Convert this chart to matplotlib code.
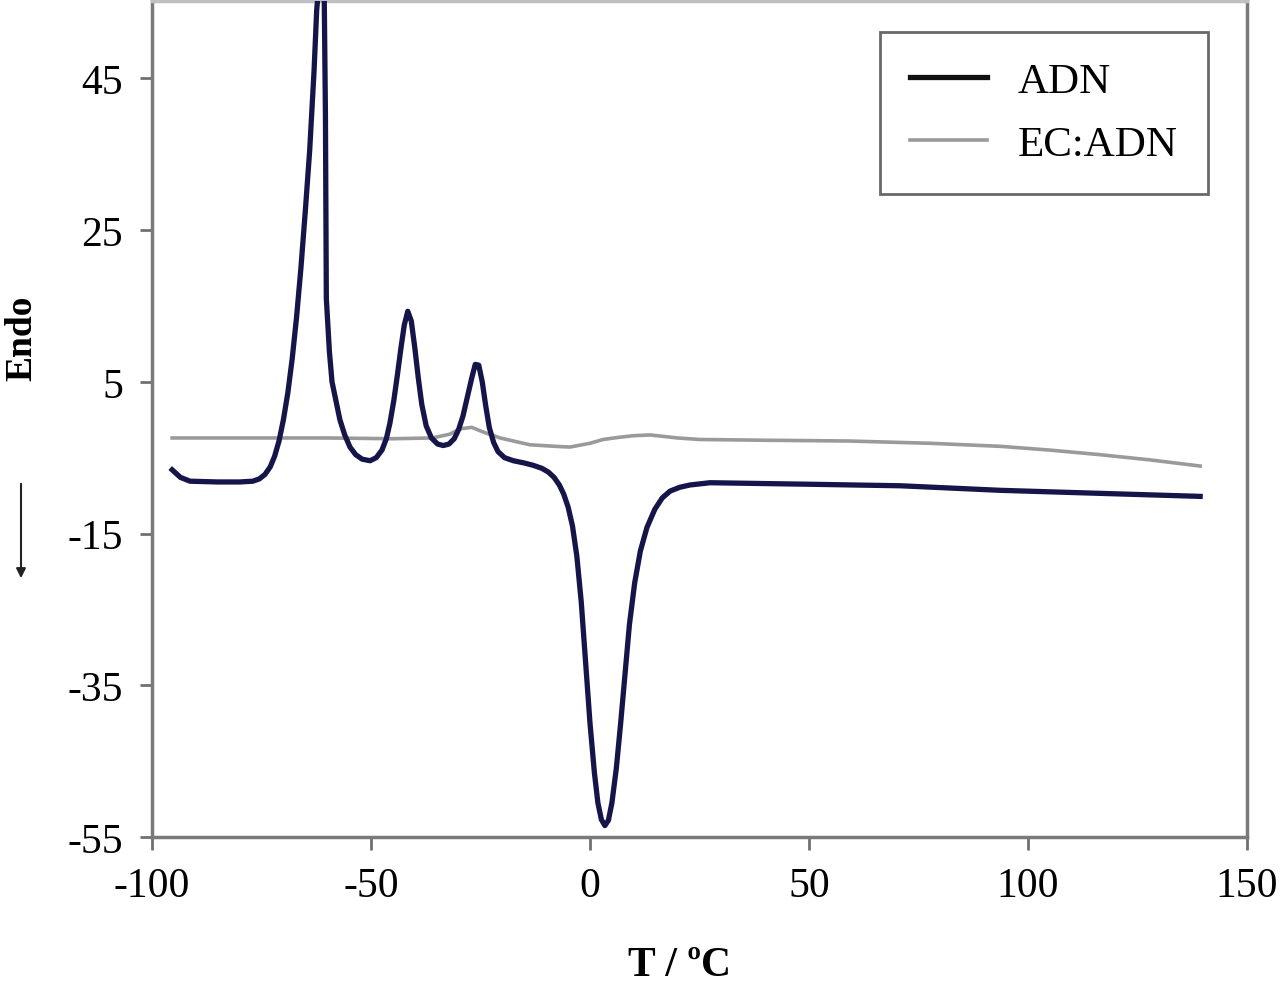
import matplotlib
matplotlib.use("Agg")
import matplotlib.pyplot as plt

plt.rcParams['font.family'] = ['Liberation Serif', 'DejaVu Serif']
plt.rcParams['axes.unicode_minus'] = False

# ADN curve
adn_T = [-95.4, -93.5, -91.3, -85, -80, -77, -75.5, -74.2, -73, -72, -71, -70,
         -69, -68, -67, -66, -65, -64, -63, -62.4, -61.5, -60.7, -60.4, -60.2,
         -59.5, -58.9, -58, -57.1, -56, -54.8, -53.5, -52, -50.2, -48.8, -47.5,
         -46.5, -45.7, -44.8, -44, -43.2, -42.4, -41.6, -40.8, -40, -39.2, -38.4,
         -37.4, -36.2, -34.8, -33.5, -32.2, -31, -30, -29, -28, -27, -26.2,
         -25.4, -24.6, -23.8, -23, -22, -21, -19.5, -17.5, -15, -13, -11,
         -9.5, -8.2, -7, -6, -5, -4, -3, -2, -1, 0, 1, 1.8, 2.6, 3.4, 4.2, 5,
         6, 7, 8, 9, 10.2, 11.5, 13, 14.8, 16.5, 18.3, 20.5, 22.8, 27.4, 50,
         70.8, 93.6, 116.4, 139.3]
adn_v = [-6.6, -7.6, -8.1, -8.2, -8.2, -8.1, -7.8, -7.2, -6.2, -4.8, -2.8, 0.0,
         3.5, 8.0, 13.5, 20.0, 27.5, 35.5, 46.0, 54.0, 60.0, 57.0, 40.0, 16.0,
         9.0, 5.0, 2.5, 0.0, -2.0, -3.6, -4.6, -5.2, -5.4, -5.0, -4.0, -2.5,
         -0.5, 2.5, 5.8, 9.3, 12.5, 14.3, 13.0, 9.5, 5.5, 2.0, -0.8, -2.4,
         -3.2, -3.4, -3.2, -2.5, -1.3, 0.5, 3.0, 5.5, 7.3, 7.2, 5.0, 1.8, -1.0,
         -3.0, -4.2, -5.0, -5.4, -5.7, -6.0, -6.4, -6.9, -7.6, -8.6, -9.8, -11.5,
         -14.0, -18.0, -24.0, -32.0, -40.0, -46.5, -50.5, -52.7, -53.5, -52.8,
         -50.5, -46.0, -40.0, -33.5, -27.0, -21.5, -17.3, -14.2, -11.8, -10.3,
         -9.4, -8.9, -8.6, -8.3, -8.5, -8.7, -9.3, -9.7, -10.1]

# EC:ADN curve
ec_T = [-95.4, -80, -60, -45, -36, -32, -29.7, -27, -24, -20.5, -16, -13.7,
        -8, -4.6, 0, 3, 6.8, 10, 13.7, 20, 25, 40, 59, 77.6, 93.6, 105, 116.4, 128, 139.3]
ec_v = [-2.4, -2.4, -2.4, -2.5, -2.4, -1.9, -1.2, -1.0, -1.7, -2.4, -3.0, -3.3,
        -3.5, -3.6, -3.1, -2.6, -2.3, -2.1, -2.0, -2.4, -2.6, -2.7, -2.8, -3.1, -3.5, -4.0, -4.6, -5.3, -6.1]

x_ticks = [-100, -50, 0, 50, 100, 150]
y_ticks = [-55, -35, -15, 5, 25, 45]

fig = plt.figure(figsize=(12.8, 9.87), dpi=100)
ax = fig.add_axes([152/1280, 1-838/987, 1095/1280, 836/987])

ax.plot(ec_T, ec_v, color='#9a9a9a', lw=2.6, label='EC:ADN', zorder=2)
ax.plot(adn_T, adn_v, color='#15154a', lw=3.8, label='ADN', zorder=3,
        solid_joinstyle='round')

ax.set_xlim(-100, 150)
ax.set_ylim(-55, 55.2)
ax.set_xticks(x_ticks)
ax.set_yticks(y_ticks)
ax.tick_params(direction='out', length=9, width=2, color='#707070',
               labelsize=30, pad=12)

for sp in ax.spines.values():
    sp.set_color('#7a7a7a')
    sp.set_linewidth(2.5)
ax.spines['top'].set_color('#c0c0c0')

handles, labels = ax.get_legend_handles_labels()
leg = ax.legend(handles[::-1], labels[::-1], loc='upper right',
                bbox_to_anchor=(0.964, 0.963), fontsize=31, frameon=True,
                fancybox=False, handlelength=1.8, handletextpad=0.7,
                borderpad=0.7, labelspacing=0.55, borderaxespad=0)
leg.get_frame().set_edgecolor('#444444')
leg.get_frame().set_linewidth(2.0)
leg.legend_handles[0].set_color('#111111')

fig.text(680/1280, 1-966/987, 'T / ºC', fontsize=30, fontweight='bold',
         ha='center', va='center')
fig.text(22/1280, 1-338/987, 'Endo', fontsize=27, fontweight='bold',
         rotation=90, ha='center', va='center')
fig.add_artist(matplotlib.patches.FancyArrowPatch(
    (21/1280, 1-482/987), (21/1280, 1-582/987), transform=fig.transFigure,
    arrowstyle='-|>', mutation_scale=14, color='#222222', lw=1.5))

fig.savefig('out.png', dpi=100)
